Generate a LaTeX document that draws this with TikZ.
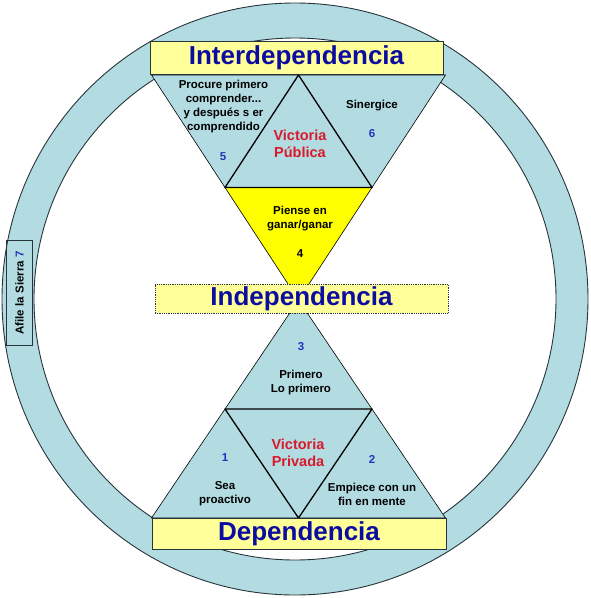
\documentclass[tikz,border=0pt]{standalone}
\usepackage{fontspec}
\setmainfont{Liberation Sans}
\usepackage{tikz}
\usetikzlibrary{positioning,calc}
\definecolor{HabitCyan}{HTML}{B2DCE2}
\definecolor{HabitYellow}{HTML}{FFFF99}
\definecolor{HabitGold}{HTML}{FFFF00}
\definecolor{HabitBlue}{HTML}{0C0CA0}
\definecolor{HabitNum}{HTML}{2233BB}
\definecolor{HabitRed}{HTML}{D81A2C}
\definecolor{HabitLine}{HTML}{27343A}

\tikzset{
  levelbox/.style={draw=HabitLine, fill=HabitYellow, line width=0.8pt, inner sep=0pt,
    text=HabitBlue, font=\fontsize{26}{28}\selectfont\bfseries},
  habit/.style={font=\fontsize{11.5}{14}\selectfont\bfseries, align=center, inner sep=0pt},
  habitnum/.style={font=\fontsize{11.5}{14}\selectfont\bfseries, text=HabitNum, inner sep=0pt},
  victory/.style={font=\fontsize{14.5}{16.5}\selectfont\bfseries, text=HabitRed, align=center, inner sep=0pt},
  tri/.style={draw=black, line width=0.6pt},
  innertri/.style={draw=black, line width=1.3pt, line join=round},
}

\begin{document}
\begin{tikzpicture}[x=1pt,y=-1pt]
  \useasboundingbox (0,0) rectangle (590,598);
  % ring
  \fill[HabitCyan, even odd rule] (295,299) ellipse [x radius=293, y radius=296]
    (295,299) circle [radius=261];
  \draw[HabitLine, line width=0.9pt] (295,299) ellipse [x radius=293, y radius=296];
  \draw[HabitLine, line width=0.9pt] (295,299) circle [radius=261];

  % upper triangle
  \coordinate (ul) at (151.5,75);
  \coordinate (ur) at (445.5,75);
  \coordinate (uapex) at (298.5,300);
  \coordinate (utop) at ($(ul)!0.5!(ur)$);
  \coordinate (uml) at ($(ul)!0.5!(uapex)$);
  \coordinate (umr) at ($(ur)!0.5!(uapex)$);
  \fill[HabitCyan] (ul) -- (ur) -- (uapex) -- cycle;
  \fill[HabitGold] (uml) -- (umr) -- (uapex) -- cycle;
  \draw[tri] (ul) -- (ur) -- (uapex) -- cycle;
  \draw[innertri] (utop) -- (uml) -- (umr) -- cycle;

  % lower triangle
  \coordinate (ll) at (151.5,518);
  \coordinate (lr) at (445.5,518);
  \coordinate (lapex) at (298.5,300);
  \coordinate (lbot) at ($(ll)!0.5!(lr)$);
  \coordinate (lml) at ($(ll)!0.5!(lapex)$);
  \coordinate (lmr) at ($(lr)!0.5!(lapex)$);
  \fill[HabitCyan] (ll) -- (lr) -- (lapex) -- cycle;
  \draw[tri] (ll) -- (lr) -- (lapex) -- cycle;
  \draw[innertri] (lbot) -- (lml) -- (lmr) -- cycle;

  % levels
  \node[levelbox, minimum width=293pt, minimum height=33pt] (inter) at (296.5,57.5) {Interdependencia};
  \node[levelbox, densely dotted, minimum width=293pt, minimum height=29pt] (indep) at (301.5,298.5) {Independencia};
  \node[levelbox, minimum width=294pt, minimum height=31pt] (dep) at (299,533.5) {Dependencia};
  \node[draw=HabitLine, line width=0.8pt, minimum width=26pt, minimum height=105pt] (saw) at (19.5,293) {};
  \node[habit, rotate=90, font=\fontsize{11.5}{14}\selectfont\bfseries] (sawtext) at (saw.center)
    {Afile la Sierra \textcolor{HabitNum}{7}};

  % habits
  \node[habit] (h5) at (223.5,106.5) {Procure primero\\comprender...\\y después s er\\comprendido};
  \node[habitnum] (n5) at (223,157) {5};
  \node[habit] (h6) at (372,106) {Sinergice};
  \node[habitnum] (n6) at (372,134) {6};
  \node[victory] (pub) at (300,144) {Victoria\\Pública};
  \node[habit] (h4) at (300,219) {Piense en\\ganar/ganar};
  \node[habitnum, text=black] (n4) at (300,254) {4};
  \node[habitnum] (n3) at (301,347) {3};
  \node[habit] (h3) at (301,382.5) {Primero\\Lo primero};
  \node[victory] (priv) at (298,453) {Victoria\\Privada};
  \node[habitnum] (n1) at (225,458) {1};
  \node[habit] (h1) at (225,494) {Sea\\proactivo};
  \node[habitnum] (n2) at (372,459) {2};
  \node[habit] (h2) at (372,494) {Empiece con un\\fin en mente};
\end{tikzpicture}
\end{document}
